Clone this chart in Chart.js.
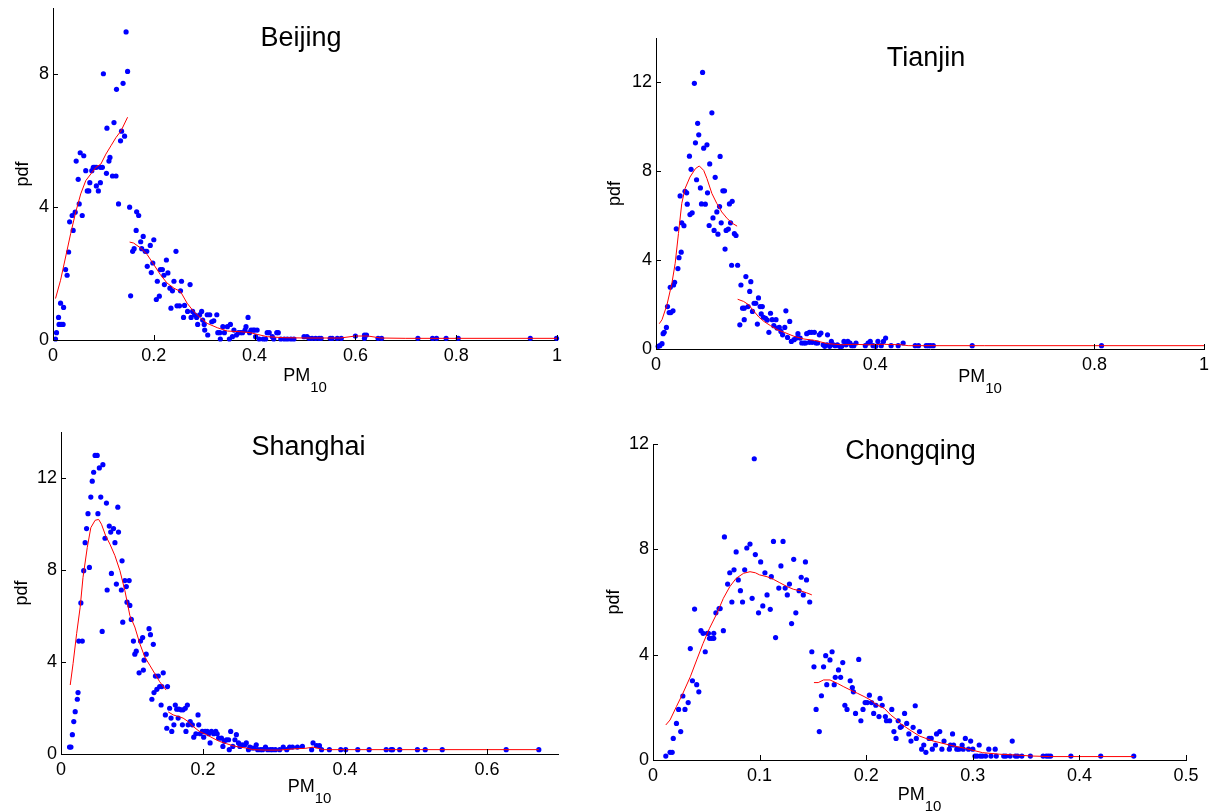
<!DOCTYPE html>
<html>
<head>
<meta charset="utf-8">
<script src="https://cdn.jsdelivr.net/npm/chart.js@4.4.1/dist/chart.umd.min.js"></script>
<style>
  html, body { margin: 0; padding: 0; background: #fff; }
  #board { position: relative; width: 1210px; height: 812px; overflow: hidden; background: #fff; }
  #board canvas { position: absolute; }
</style>
</head>
<body>
<div id="board"></div>
<script>
// ---- tick values ----
const beijingXTicks = [0, 0.2, 0.4, 0.6, 0.8, 1];
const beijingYTicks = [0, 4, 8];
const tianjinXTicks = [0, 0.4, 0.8, 1];
const tianjinYTicks = [0, 4, 8, 12];
const shanghaiXTicks = [0, 0.2, 0.4, 0.6];
const shanghaiYTicks = [0, 4, 8, 12];
const chongqingXTicks = [0, 0.1, 0.2, 0.3, 0.4, 0.5];
const chongqingYTicks = [0, 4, 8, 12];

// ---- empirical pdf points [PM10, pdf] ----
const beijingDots = [
  [0.005,0.03],[0.007,0.22],[0.011,0.68],[0.015,1.11],[0.012,0.47],[0.016,0.47],[0.02,0.47],[0.021,0.98],
  [0.025,2.12],[0.028,1.95],[0.031,2.65],[0.033,3.56],[0.038,3.75],[0.04,3.3],[0.044,3.85],[0.046,5.39],
  [0.05,4.84],[0.052,4.1],[0.054,5.64],[0.058,3.75],[0.061,5.55],[0.065,5.1],[0.068,4.49],[0.071,4.49],
  [0.073,4.74],[0.077,5.1],[0.08,5.2],[0.083,5.2],[0.086,5.2],[0.086,4.64],[0.09,4.49],[0.094,4.74],
  [0.094,5.2],[0.098,5.2],[0.1,8.02],[0.106,5.02],[0.107,6.38],[0.111,5.39],[0.113,5.5],[0.118,4.94],
  [0.125,4.94],[0.121,6.55],[0.126,7.55],[0.13,4.1],[0.134,6.0],[0.136,6.29],[0.139,7.73],[0.142,6.14],
  [0.145,9.28],[0.148,8.09],
  [0.152,4.0],[0.154,1.33],[0.158,2.67],[0.161,2.75],[0.165,3.3],[0.166,3.86],[0.17,3.75],[0.174,2.96],
  [0.176,2.75],[0.179,3.12],[0.183,2.67],[0.186,2.67],[0.187,2.22],[0.193,2.85],[0.195,2.03],[0.198,2.32],
  [0.2,3.02],[0.205,1.22],[0.207,1.77],[0.211,1.32],[0.213,2.12],[0.217,2.12],[0.22,1.95],[0.221,1.67],
  [0.225,2.41],[0.228,2.02],[0.232,1.56],[0.234,0.96],[0.237,1.48],[0.24,1.77],[0.244,2.67],[0.246,1.03],
  [0.251,1.03],[0.253,1.48],[0.255,1.77],[0.259,0.68],[0.261,1.04],[0.267,0.86],[0.272,1.67],[0.274,0.68],
  [0.277,0.86],[0.281,0.76],[0.285,0.68],[0.287,0.47],[0.291,0.76],[0.295,0.86],[0.297,0.6],[0.301,0.3],
  [0.3,0.47],[0.306,0.76],[0.311,0.76],[0.307,0.15],[0.315,0.55],[0.319,0.58],[0.325,0.76],[0.327,0.22],
  [0.331,0.22],[0.332,0.03],[0.337,0.4],[0.34,0.22],[0.346,0.4],[0.35,0.03],[0.352,0.47],[0.356,0.1],
  [0.359,0.3],[0.364,0.15],[0.368,0.22],[0.372,0.22],[0.376,0.22],[0.381,0.3],[0.383,0.4],[0.387,0.68],
  [0.39,0.22],[0.393,0.3],[0.397,0.3],[0.4,0.3],[0.405,0.3],[0.402,0.1],[0.409,0.03],[0.417,0.03],
  [0.422,0.03],[0.425,0.22],[0.429,0.22],[0.435,0.1],[0.438,0.03],[0.444,0.22],[0.447,0.22],[0.452,0.03],
  [0.459,0.03],[0.465,0.03],[0.472,0.03],[0.478,0.03],
  [0.498,0.1],[0.504,0.1],[0.508,0.05],[0.514,0.05],[0.521,0.05],[0.528,0.05],[0.532,0.05],[0.55,0.05],
  [0.554,0.05],[0.564,0.05],[0.572,0.05],[0.6,0.12],[0.618,0.15],[0.622,0.15],[0.618,0.05],[0.645,0.05],
  [0.652,0.05],[0.724,0.05],[0.753,0.05],[0.761,0.05],[0.78,0.05],[0.804,0.05],[0.947,0.05],[0.999,0.05]
];
const tianjinDots = [
  [0.004,0.12],[0.007,0.15],[0.011,0.24],[0.013,0.69],[0.015,0.75],[0.019,0.97],[0.021,1.91],[0.024,1.64],
  [0.027,1.64],[0.031,1.72],[0.026,2.78],[0.032,2.88],[0.034,3.0],[0.037,5.41],[0.04,3.62],[0.042,4.11],
  [0.044,6.89],[0.046,4.36],[0.047,5.68],[0.051,5.55],[0.053,7.1],[0.056,7.03],[0.057,6.52],[0.061,8.68],
  [0.062,6.05],[0.066,6.13],[0.064,8.09],[0.07,11.96],[0.072,9.28],[0.074,7.62],[0.076,10.16],[0.078,9.64],
  [0.081,7.25],[0.083,6.53],[0.085,12.45],[0.087,9.04],[0.09,6.52],[0.093,9.19],[0.094,7.03],[0.097,5.56],
  [0.098,8.33],[0.102,10.63],[0.104,5.9],[0.106,5.34],[0.108,7.73],[0.111,6.17],[0.113,5.17],[0.116,6.41],
  [0.117,8.67],[0.119,5.68],[0.122,7.12],[0.125,7.12],[0.126,4.5],[0.128,5.34],[0.132,5.4],[0.134,6.53],
  [0.136,5.68],[0.138,3.77],[0.139,6.65],[0.143,5.19],[0.146,5.11],[0.149,3.77],
  [0.153,1.09],[0.155,2.88],[0.158,1.84],[0.161,1.84],[0.161,1.32],[0.164,3.26],[0.168,1.91],[0.171,2.59],
  [0.173,3.03],[0.176,1.69],[0.179,2.06],[0.182,2.06],[0.185,1.12],[0.187,2.3],[0.19,1.91],[0.194,1.91],
  [0.192,1.58],[0.196,1.43],[0.2,1.38],[0.203,1.3],[0.206,0.75],[0.209,1.61],[0.212,1.32],[0.215,1.05],
  [0.219,1.32],[0.221,0.94],[0.225,0.97],[0.228,0.79],[0.231,0.64],[0.235,0.97],[0.237,1.72],[0.24,0.52],
  [0.244,1.24],[0.247,0.34],[0.252,0.42],[0.256,0.49],[0.259,0.69],[0.263,0.49],[0.266,0.27],[0.27,0.27],
  [0.273,0.27],[0.275,0.69],[0.28,0.75],[0.284,0.75],[0.289,0.75],[0.28,0.3],[0.285,0.3],[0.292,0.27],
  [0.295,0.27],[0.298,0.64],[0.301,0.72],[0.305,0.19],[0.308,0.12],[0.312,0.19],[0.313,0.64],[0.317,0.12],
  [0.32,0.34],[0.324,0.19],[0.327,0.15],[0.331,0.19],[0.335,0.12],[0.339,0.12],[0.343,0.34],[0.347,0.19],
  [0.35,0.34],[0.354,0.27],[0.357,0.15],[0.361,0.15],[0.365,0.27],[0.382,0.15],[0.387,0.27],[0.391,0.34],
  [0.396,0.15],[0.401,0.12],[0.405,0.34],[0.411,0.15],[0.415,0.34],[0.419,0.49],[0.429,0.15],[0.442,0.15],
  [0.451,0.27],[0.473,0.15],[0.479,0.15],[0.493,0.15],[0.497,0.15],[0.501,0.15],[0.506,0.15],[0.577,0.15],
  [0.813,0.15]
];
const shanghaiDots = [
  [0.012,0.3],[0.014,0.3],[0.016,0.84],[0.018,1.41],[0.02,1.84],[0.023,2.38],[0.024,2.67],[0.025,4.91],
  [0.03,4.91],[0.028,6.57],[0.032,7.97],[0.034,9.19],[0.036,9.8],[0.038,10.45],[0.04,8.11],[0.042,11.17],
  [0.044,11.86],[0.046,12.25],[0.048,12.98],[0.051,12.98],[0.052,10.45],[0.054,12.44],[0.056,11.17],[0.058,5.33],
  [0.059,12.58],[0.062,9.38],[0.064,10.91],[0.065,7.13],[0.068,9.91],[0.07,9.65],[0.071,7.85],[0.074,9.8],
  [0.076,9.19],[0.078,7.39],[0.08,10.73],[0.081,9.65],[0.085,7.13],[0.086,8.4],[0.087,5.73],[0.09,7.54],
  [0.096,7.54],[0.092,7.28],[0.093,6.6],[0.097,6.46],[0.099,5.85],[0.102,4.91],[0.104,4.34],[0.106,4.47],
  [0.11,3.53],[0.112,4.91],[0.115,5.06],[0.116,3.65],[0.117,4.08],[0.12,4.34],[0.124,5.45],[0.126,5.19],
  [0.128,2.38],[0.13,4.77],[0.131,2.67],[0.133,3.39],[0.135,2.81],[0.137,3.39],[0.139,2.93],[0.142,2.93],
  [0.141,2.13],[0.144,3.53],[0.147,1.7],[0.149,1.12],[0.15,2.93],
  [0.153,1.99],[0.155,1.56],[0.156,0.98],[0.159,1.27],[0.161,2.13],[0.163,1.95],[0.165,1.56],[0.166,1.95],
  [0.169,1.92],[0.172,1.92],[0.171,1.27],[0.175,1.99],[0.178,2.13],[0.176,0.98],[0.179,1.27],[0.182,1.41],
  [0.185,1.27],[0.187,0.73],[0.19,0.88],[0.193,1.7],[0.194,1.27],[0.196,0.88],[0.199,0.98],[0.201,0.73],
  [0.203,0.98],[0.206,0.98],[0.208,0.88],[0.21,0.48],[0.212,0.98],[0.215,0.88],[0.218,0.98],[0.22,0.88],
  [0.222,0.69],[0.226,0.69],[0.228,0.33],[0.23,0.55],[0.233,0.62],[0.236,0.62],[0.237,0.19],[0.239,0.98],
  [0.242,0.33],[0.245,0.62],[0.247,0.84],[0.25,0.48],[0.252,0.33],[0.255,0.4],[0.259,0.4],[0.261,0.48],
  [0.264,0.19],[0.266,0.3],[0.269,0.26],[0.272,0.26],[0.275,0.4],[0.277,0.19],[0.281,0.19],[0.284,0.19],
  [0.288,0.3],[0.291,0.19],[0.295,0.19],[0.298,0.19],[0.302,0.19],[0.308,0.19],[0.313,0.3],[0.318,0.19],
  [0.322,0.3],[0.326,0.3],[0.333,0.3],
  [0.34,0.33],[0.353,0.19],[0.355,0.48],[0.36,0.36],[0.364,0.36],[0.367,0.19],[0.378,0.19],[0.394,0.19],
  [0.401,0.19],[0.418,0.19],[0.434,0.19],[0.458,0.19],[0.465,0.19],[0.467,0.19],[0.477,0.19],[0.502,0.19],
  [0.513,0.19],[0.537,0.19],[0.627,0.19],[0.673,0.19]
];
const chongqingDots = [
  [0.012,0.15],[0.016,0.29],[0.018,0.29],[0.019,0.82],[0.022,1.39],[0.024,1.92],[0.026,1.08],[0.028,2.43],
  [0.03,1.92],[0.033,2.18],[0.035,4.23],[0.037,3.01],[0.039,5.73],[0.041,2.86],[0.043,2.59],[0.045,4.91],
  [0.047,4.81],[0.049,4.11],[0.051,4.81],[0.052,4.81],[0.053,4.62],[0.055,4.62],[0.057,4.62],[0.057,4.81],
  [0.059,5.59],[0.062,5.75],[0.063,5.75],[0.066,4.91],[0.067,8.47],[0.07,6.68],[0.072,7.11],[0.074,6.0],
  [0.076,7.22],[0.078,7.9],[0.08,6.84],[0.082,6.43],[0.084,6.0],[0.086,7.22],[0.088,8.05],[0.091,8.2],
  [0.093,6.14],[0.095,11.44],[0.096,7.8],[0.099,5.59],[0.101,7.52],[0.103,5.85],[0.105,7.11],[0.107,6.27],
  [0.11,5.72],[0.111,6.96],[0.113,8.3],[0.115,4.65],[0.118,6.53],[0.12,7.37],[0.122,8.3],[0.124,6.53],
  [0.126,6.27],[0.128,6.68],[0.13,5.18],[0.132,7.62],[0.134,5.59],[0.137,6.43],[0.139,6.94],[0.141,6.27],
  [0.143,7.52],[0.144,6.84],[0.147,6.0],
  [0.149,4.11],[0.151,3.54],[0.153,1.92],[0.156,1.08],[0.158,2.44],[0.16,3.54],[0.162,3.96],[0.163,2.86],
  [0.166,3.8],[0.168,4.11],[0.17,2.86],[0.171,3.14],[0.174,3.42],[0.176,3.14],[0.178,3.7],[0.18,2.08],
  [0.182,1.92],[0.185,3.01],[0.187,2.75],[0.188,2.59],[0.19,1.77],[0.193,3.82],[0.195,1.49],[0.197,1.92],
  [0.199,2.18],[0.201,2.18],[0.203,2.46],[0.205,2.18],[0.207,1.77],[0.209,2.08],[0.212,1.65],[0.213,2.34],
  [0.215,2.08],[0.218,1.65],[0.219,1.49],[0.222,1.49],[0.224,1.92],[0.226,1.08],[0.228,0.82],[0.23,1.49],
  [0.232,1.24],[0.233,1.27],[0.236,1.77],[0.238,1.39],[0.24,0.99],[0.242,0.72],[0.244,1.24],[0.246,2.06],
  [0.247,0.82],[0.25,1.08],[0.252,0.41],[0.254,0.57],[0.256,0.29],[0.259,0.82],[0.261,0.82],[0.262,0.41],
  [0.265,0.57],[0.266,0.99],[0.269,1.08],[0.271,0.41],[0.273,0.72],[0.278,0.41],[0.279,0.57],[0.281,0.99],
  [0.282,0.57],[0.285,0.41],[0.287,0.41],[0.29,0.57],[0.291,0.41],[0.293,0.82],[0.296,0.41],[0.298,0.72],
  [0.3,0.41],[0.302,0.15],[0.304,0.15],[0.307,0.15],[0.306,0.57],[0.309,0.15],[0.312,0.15],[0.315,0.41],
  [0.317,0.15],[0.321,0.41],[0.322,0.15],[0.329,0.15],[0.331,0.15],[0.337,0.72],[0.335,0.15],[0.34,0.15],
  [0.342,0.15],[0.346,0.15],[0.354,0.15],[0.366,0.15],[0.369,0.15],[0.371,0.15],[0.373,0.15],[0.392,0.15],
  [0.42,0.15],[0.451,0.15]
];

// ---- fitted curves, one piece below and one above 0.15 ----
const beijingFitLow = [
  [0.005,1.25],[0.015,1.8],[0.025,2.5],[0.035,3.2],[0.045,3.85],[0.055,4.4],[0.065,4.8],[0.075,5.0],
  [0.085,5.2],[0.095,5.3],[0.105,5.6],[0.115,5.85],[0.125,6.1],[0.135,6.3],[0.148,6.71]
];
const beijingFitHigh = [
  [0.152,2.95],[0.16,2.92],[0.174,2.77],[0.187,2.57],[0.2,2.27],[0.213,1.97],[0.226,1.72],[0.24,1.56],
  [0.253,1.46],[0.266,1.11],[0.279,0.86],[0.293,0.66],[0.306,0.5],[0.326,0.37],[0.346,0.27],[0.372,0.25],
  [0.392,0.22],[0.405,0.17],[0.425,0.1],[0.458,0.07],[0.5,0.06],[0.57,0.06],[0.6,0.12],[0.625,0.12],
  [0.65,0.06],[0.7,0.05],[0.8,0.05],[1.0,0.05]
];
const tianjinFitLow = [
  [0.006,1.14],[0.011,1.32],[0.02,1.99],[0.029,2.96],[0.035,3.86],[0.041,5.2],[0.047,6.55],[0.053,7.22],
  [0.062,7.74],[0.072,8.12],[0.079,8.24],[0.087,8.04],[0.093,7.67],[0.102,7.0],[0.111,6.55],[0.12,6.17],
  [0.13,5.87],[0.14,5.65],[0.148,5.53]
];
const tianjinFitHigh = [
  [0.149,2.24],[0.16,2.14],[0.169,1.99],[0.179,1.69],[0.188,1.43],[0.197,1.24],[0.209,1.05],[0.221,0.87],
  [0.234,0.75],[0.252,0.57],[0.27,0.45],[0.289,0.39],[0.313,0.24],[0.338,0.19],[0.362,0.21],[0.387,0.19],
  [0.417,0.21],[0.448,0.19],[0.46,0.15],[0.6,0.15],[0.8,0.15],[1.0,0.15]
];
const shanghaiFitLow = [
  [0.013,3.0],[0.017,3.93],[0.022,5.23],[0.027,6.38],[0.031,7.68],[0.037,8.98],[0.042,9.84],[0.048,10.16],
  [0.053,10.2],[0.057,9.99],[0.063,9.48],[0.069,9.12],[0.076,8.62],[0.083,7.97],[0.09,7.1],[0.097,6.02],
  [0.104,5.52],[0.111,4.8],[0.118,4.22],[0.125,3.86],[0.132,3.5],[0.139,3.14],[0.148,2.78]
];
const shanghaiFitHigh = [
  [0.151,1.83],[0.158,1.7],[0.165,1.63],[0.172,1.56],[0.179,1.41],[0.186,1.2],[0.195,0.98],[0.205,0.84],
  [0.214,0.69],[0.223,0.55],[0.233,0.45],[0.242,0.36],[0.251,0.3],[0.261,0.26],[0.27,0.19],[0.289,0.17],
  [0.308,0.17],[0.326,0.22],[0.345,0.25],[0.355,0.3],[0.37,0.19],[0.4,0.19],[0.5,0.19],[0.673,0.19]
];
const chongqingFitLow = [
  [0.012,1.33],[0.016,1.52],[0.022,2.03],[0.028,2.53],[0.035,3.16],[0.041,3.8],[0.047,4.43],[0.053,5.0],
  [0.06,5.57],[0.066,6.14],[0.072,6.58],[0.078,6.9],[0.085,7.09],[0.091,7.15],[0.096,7.11],[0.1,7.03],
  [0.107,6.96],[0.113,6.86],[0.119,6.73],[0.126,6.58],[0.132,6.48],[0.138,6.43],[0.144,6.35],[0.149,6.27]
];
const chongqingFitHigh = [
  [0.151,2.94],[0.155,2.94],[0.16,3.04],[0.166,3.04],[0.173,2.91],[0.179,2.78],[0.185,2.66],[0.192,2.53],
  [0.198,2.41],[0.204,2.28],[0.21,2.09],[0.217,1.96],[0.223,1.71],[0.229,1.52],[0.232,1.39],[0.241,1.14],
  [0.25,0.91],[0.262,0.73],[0.278,0.57],[0.293,0.44],[0.309,0.28],[0.325,0.22],[0.34,0.19],[0.356,0.15],
  [0.372,0.13],[0.42,0.13],[0.451,0.13]
];

const FONT = '"Liberation Sans", Arial, Helvetica, sans-serif';

// plot rectangles are in page pixels; the canvas gets a margin round each one
const panels = [
  { title: 'Beijing', dots: beijingDots, fits: [beijingFitLow, beijingFitHigh],
    xTicks: beijingXTicks, yTicks: beijingYTicks, xMax: 1, yMax: 10,
    box: { l: 53, t: 8, r: 557, b: 340 }, titleDx: -4, titleDy: 38, yLabelDx: 30, xLabelDx: 0, xLabelDy: 41 },
  { title: 'Tianjin', dots: tianjinDots, fits: [tianjinFitLow, tianjinFitHigh],
    xTicks: tianjinXTicks, yTicks: tianjinYTicks, xMax: 1, yMax: 14,
    box: { l: 656, t: 38, r: 1204, b: 349 }, titleDx: -4, titleDy: 28, yLabelDx: 41, xLabelDx: 50, xLabelDy: 33 },
  { title: 'Shanghai', dots: shanghaiDots, fits: [shanghaiFitLow, shanghaiFitHigh],
    xTicks: shanghaiXTicks, yTicks: shanghaiYTicks, xMax: 0.7, yMax: 14,
    box: { l: 61, t: 432, r: 558, b: 754 }, titleDx: -1, titleDy: 23, yLabelDx: 39, xLabelDx: 0, xLabelDy: 38 },
  { title: 'Chongqing', dots: chongqingDots, fits: [chongqingFitLow, chongqingFitHigh],
    xTicks: chongqingXTicks, yTicks: chongqingYTicks, xMax: 0.5, yMax: 12,
    box: { l: 653, t: 444, r: 1186, b: 760 }, titleDx: -9, titleDy: 15, yLabelDx: 39, xLabelDx: 0, xLabelDy: 40 }
];

const M = { left: 70, top: 30, right: 30, bottom: 60 };

// inward tick marks, panel title, pdf label and PM10 label
const panelDecor = {
  id: 'panelDecor',
  afterDraw(chart, args, opts) {
    const { ctx, chartArea: a } = chart;
    const xs = chart.scales.x, ys = chart.scales.y;
    ctx.save();
    ctx.strokeStyle = '#000';
    ctx.lineWidth = 1;
    ctx.beginPath();
    xs.ticks.forEach(t => {
      const px = Math.round(xs.getPixelForValue(t.value)) + 0.5;
      ctx.moveTo(px, a.bottom);
      ctx.lineTo(px, a.bottom - 5);
    });
    ys.ticks.forEach(t => {
      const py = Math.round(ys.getPixelForValue(t.value)) + 0.5;
      ctx.moveTo(a.left, py);
      ctx.lineTo(a.left + 5, py);
    });
    ctx.stroke();

    ctx.fillStyle = '#000';
    ctx.textAlign = 'center';
    ctx.textBaseline = 'alphabetic';
    ctx.font = '27px ' + FONT;
    ctx.fillText(opts.title, (a.left + a.right) / 2 + opts.titleDx, a.top + opts.titleDy);

    ctx.save();
    ctx.translate(a.left - opts.yLabelDx, (a.top + a.bottom) / 2);
    ctx.rotate(-Math.PI / 2);
    ctx.font = '18px ' + FONT;
    ctx.textBaseline = 'middle';
    ctx.fillText('pdf', 0, 0);
    ctx.restore();

    ctx.textAlign = 'left';
    ctx.font = '18px ' + FONT;
    const wMain = ctx.measureText('PM').width;
    ctx.font = '15px ' + FONT;
    const wSub = ctx.measureText('10').width;
    const x0 = (a.left + a.right) / 2 + opts.xLabelDx - (wMain + wSub) / 2;
    const base = a.bottom + opts.xLabelDy;
    ctx.font = '18px ' + FONT;
    ctx.fillText('PM', x0, base);
    ctx.font = '15px ' + FONT;
    ctx.fillText('10', x0 + wMain, base + 11);
    ctx.restore();
  }
};

const toXY = pairs => pairs.map(([x, y]) => ({ x, y }));

const board = document.getElementById('board');

panels.forEach(p => {
  const cv = document.createElement('canvas');
  const w = p.box.r - p.box.l + M.left + M.right;
  const h = p.box.b - p.box.t + M.top + M.bottom;
  cv.width = w;
  cv.height = h;
  cv.style.left = (p.box.l - M.left) + 'px';
  cv.style.top = (p.box.t - M.top) + 'px';
  cv.style.width = w + 'px';
  cv.style.height = h + 'px';
  board.appendChild(cv);

  const fitSets = p.fits.map(seg => ({
    data: toXY(seg),
    showLine: true,
    borderColor: '#ff0000',
    borderWidth: 1,
    pointRadius: 0,
    tension: 0,
    clip: false,
    order: 0
  }));

  new Chart(cv, {
    type: 'scatter',
    data: {
      datasets: [
        {
          data: toXY(p.dots),
          backgroundColor: '#0000ff',
          borderWidth: 0,
          pointRadius: 2.6,
          pointHoverRadius: 2.6,
          clip: false,
          order: 1
        },
        ...fitSets
      ]
    },
    options: {
      responsive: false,
      animation: false,
      devicePixelRatio: 1,
      events: [],
      layout: { padding: { left: 0, top: M.top, right: M.right, bottom: 0 } },
      plugins: {
        legend: { display: false },
        tooltip: { enabled: false },
        panelDecor: p
      },
      scales: {
        x: {
          type: 'linear',
          min: 0,
          max: p.xMax,
          border: { display: true, color: '#000', width: 1 },
          grid: { drawOnChartArea: false, drawTicks: false },
          ticks: {
            padding: 5,
            color: '#000',
            font: { family: FONT, size: 18 },
            maxRotation: 0,
            callback: v => String(v)
          },
          afterBuildTicks: s => { s.ticks = p.xTicks.map(v => ({ value: v })); },
          afterFit: s => { s.height = M.bottom; }
        },
        y: {
          type: 'linear',
          min: 0,
          max: p.yMax,
          border: { display: true, color: '#000', width: 1 },
          grid: { drawOnChartArea: false, drawTicks: false },
          ticks: {
            padding: 4,
            color: '#000',
            font: { family: FONT, size: 18 },
            callback: v => String(v)
          },
          afterBuildTicks: s => { s.ticks = p.yTicks.map(v => ({ value: v })); },
          afterFit: s => { s.width = M.left; }
        }
      }
    },
    plugins: [panelDecor]
  });
});
</script>
</body>
</html>
